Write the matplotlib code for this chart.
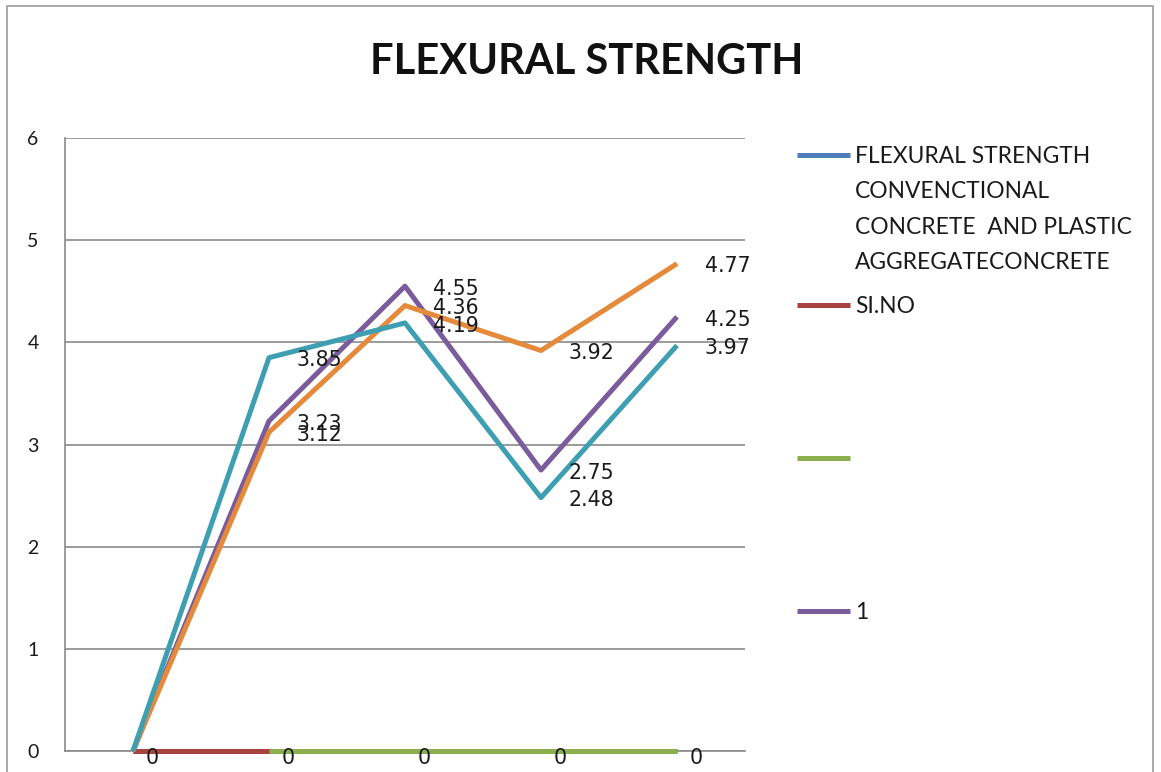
import numpy as np
import matplotlib.pyplot as plt
from matplotlib.lines import Line2D
from matplotlib.patches import Rectangle

# Five test points along the category axis
points = [0, 1, 2, 3, 4]

# Series shown in the legend
legend_blue = [0, 0, 0, 0, 0]
si_no = [0, 0, np.nan, np.nan, np.nan]
blank_series = [np.nan, 0, 0, 0, 0]
series_1 = [0, 3.23, 4.55, 2.75, 4.25]

# Extra series drawn without legend entries
teal_series = [0, 3.85, 4.19, 2.48, 3.97]
orange_series = [0, 3.12, 4.36, 3.92, 4.77]

blue_label = ("FLEXURAL STRENGTH\nCONVENCTIONAL\n"
              "CONCRETE  AND PLASTIC\nAGGREGATECONCRETE")

colors = {
    "blue": "#4F7FBA",
    "red": "#A8433F",
    "green": "#8BAE4E",
    "purple": "#7A5C9C",
    "teal": "#3F9FB2",
    "orange": "#E5893A",
}

W, H = 1161, 772
fig = plt.figure(figsize=(W / 100, H / 100), dpi=100)

# outer chart frame
fig.add_artist(Rectangle((7 / W, -0.05), (1153 - 7) / W, 1.05 - 6 / H,
                         transform=fig.transFigure, fill=False,
                         edgecolor="#9a9a9a", linewidth=1.2))

ax = fig.add_axes([65 / W, 1 - 751 / H, (745 - 65) / W, (751 - 138) / H])

lw = 3.6
line_kw = dict(lw=lw, clip_on=False, solid_capstyle="butt")
ax.plot(points, legend_blue, color=colors["blue"], zorder=3, **line_kw)
ax.plot(points, si_no, color=colors["red"], zorder=4, **line_kw)
ax.plot(points, blank_series, color=colors["green"], zorder=4, **line_kw)
ax.plot(points, series_1, color=colors["purple"], zorder=5, **line_kw)
ax.plot(points, teal_series, color=colors["teal"], zorder=6, **line_kw)
ax.plot(points, orange_series, color=colors["orange"], zorder=5, **line_kw)

label_font = dict(fontsize=14.8, family="DejaVu Sans", color="#1a1a1a")

# value labels to the right of each point
for series in (teal_series, series_1, orange_series):
    for x, v in zip(points[1:], series[1:]):
        ax.annotate(f"{v:g}", (x, v), xytext=(20, -2),
                    textcoords="offset points", ha="left", va="center",
                    zorder=8, **label_font)

# zero labels along the base line
for x, v in zip(points, legend_blue):
    ax.annotate(f"{v:g}", (x, v), xytext=(9, -5), textcoords="offset points",
                ha="left", va="center", zorder=8, **label_font)

ax.set_xlim(-0.5, 4.5)
ax.set_ylim(0, 6)
ax.set_yticks(range(0, 7))
ax.set_xticks([])
ax.grid(axis="y", color="#8a8a8a", linewidth=1.2)
ax.set_axisbelow(True)
for side in ("top", "right"):
    ax.spines[side].set_visible(False)
ax.spines["left"].set_color("#8a8a8a")
ax.spines["bottom"].set_color("#8a8a8a")
ax.spines["left"].set_linewidth(1.2)
ax.spines["bottom"].set_linewidth(1.2)
ax.tick_params(axis="y", length=0, pad=19, labelsize=14,
               labelfontfamily="Lato", labelcolor="#1a1a1a")

fig.text(587 / W, 1 - 62 / H, "FLEXURAL STRENGTH", ha="center", va="center",
         fontsize=30, fontweight="bold", family="Lato", color="#111111")

# legend drawn beside the plot area
legend_rows = [
    (blue_label, colors["blue"], 155),
    ("SI.NO", colors["red"], 305),
    ("", colors["green"], 458),
    ("1", colors["purple"], 611),
]
for text, color, y in legend_rows:
    yf = 1 - y / H
    fig.add_artist(Line2D([797 / W, 850 / W], [yf, yf], color=color,
                          lw=lw, solid_capstyle="butt",
                          transform=fig.transFigure))
    fig.text(855 / W, 1 - (y - 9) / H, text, ha="left", va="top",
             fontsize=16.4, family="Lato", color="#1a1a1a", linespacing=1.85)

fig.savefig("out.png", dpi=100)
